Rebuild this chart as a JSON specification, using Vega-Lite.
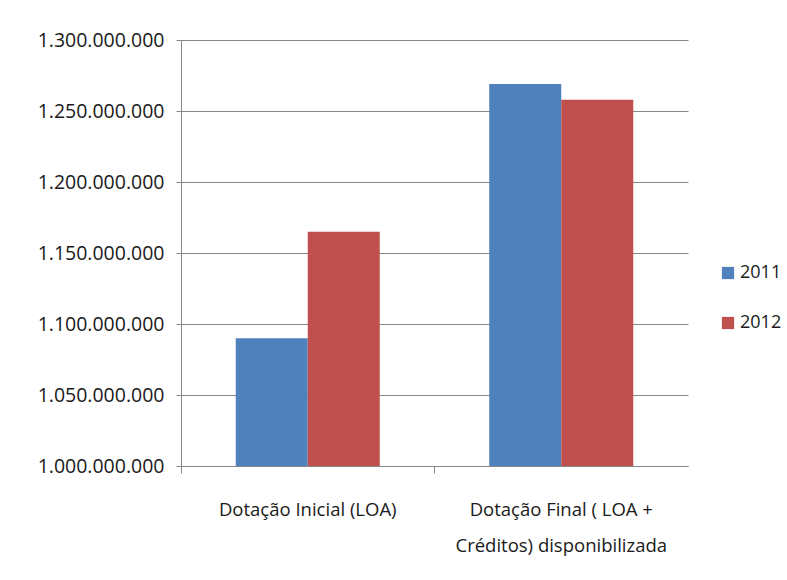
{
  "$schema": "https://vega.github.io/schema/vega-lite/v6.json",
  "width": 507,
  "height": 426,
  "autosize": {"type": "none"},
  "padding": {"left": 181, "top": 40, "right": 99, "bottom": 114},
  "background": "white",
  "config": {
    "locale": {"number": {"decimal": ",", "thousands": ".", "grouping": [3], "currency": ["R$", ""]}},
    "view": {"stroke": null},
    "font": "Open Sans",
    "axis": {"labelFont": "Open Sans", "labelColor": "#1a1a1a", "labelFontSize": 19.5, "labelLimit": 0}
  },
  "data": {
    "values": [
      {"categoria": "Dotação Inicial (LOA)", "ano": "2011", "valor": 1090000000},
      {"categoria": "Dotação Inicial (LOA)", "ano": "2012", "valor": 1165000000},
      {"categoria": "Dotação Final ( LOA + Créditos) disponibilizada", "ano": "2011", "valor": 1269000000},
      {"categoria": "Dotação Final ( LOA + Créditos) disponibilizada", "ano": "2012", "valor": 1258000000}
    ]
  },
  "mark": {"type": "bar"},
  "encoding": {
    "x": {
      "field": "categoria",
      "type": "nominal",
      "sort": null,
      "scale": {"paddingInner": 0, "paddingOuter": 0},
      "axis": {
        "title": null,
        "labelAngle": 0,
        "labelExpr": "datum.label == 'Dotação Final ( LOA + Créditos) disponibilizada' ? ['Dotação Final ( LOA +', 'Créditos) disponibilizada'] : datum.label",
        "labelFontSize": 18.5,
        "labelLineHeight": 36,
        "labelBaseline": "top",
        "labelPadding": 27,
        "bandPosition": 0,
        "ticks": true,
        "tickSize": 7,
        "tickColor": "#868686",
        "domainColor": "#868686",
        "labelBound": false,
        "labelOverlap": false,
        "labelAlign": "center",
        "labelLimit": 0
      }
    },
    "xOffset": {"field": "ano", "type": "nominal", "scale": {"paddingInner": 0, "paddingOuter": 0.76}},
    "y": {
      "field": "valor",
      "type": "quantitative",
      "scale": {"domain": [1000000000, 1300000000], "nice": false, "zero": false},
      "axis": {
        "title": null,
        "values": [1000000000, 1050000000, 1100000000, 1150000000, 1200000000, 1250000000, 1300000000],
        "format": ",d",
        "tickSize": 5,
        "tickColor": "#868686",
        "domainColor": "#868686",
        "gridColor": "#868686",
        "grid": true,
        "labelPadding": 12
      }
    },
    "y2": {"datum": 1000000000},
    "color": {
      "field": "ano",
      "type": "nominal",
      "scale": {"domain": ["2011", "2012"], "range": ["#4F81BD", "#C0504D"]},
      "legend": {
        "title": null,
        "orient": "none",
        "legendX": 538,
        "legendY": 224,
        "symbolType": "square",
        "symbolSize": 150,
        "symbolStrokeWidth": 0,
        "labelFontSize": 18,
        "labelFont": "Open Sans",
        "labelColor": "#1a1a1a",
        "labelLimit": 0,
        "rowPadding": 32,
        "labelOffset": 3
      }
    }
  }
}
